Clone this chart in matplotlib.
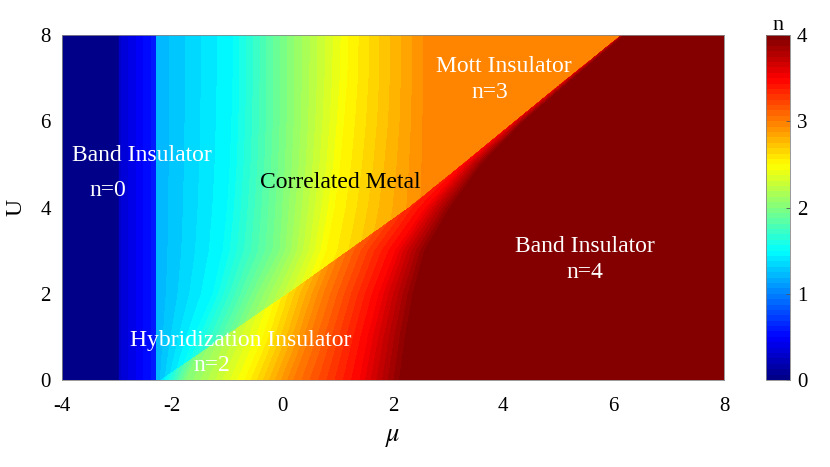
import numpy as np
import matplotlib
matplotlib.use("Agg")
import matplotlib.pyplot as plt
from matplotlib.colors import LinearSegmentedColormap

plt.rcParams['font.family'] = ['Liberation Serif', 'DejaVu Serif']
plt.rcParams['mathtext.fontset'] = 'stix'
plt.rcParams['axes.unicode_minus'] = False

# ---- data ----
U_rows = [0, 1, 2, 3, 4, 5, 6, 7, 8]
# boundary line between correlated metal (left/up) and hybridization/band insulator (right/down)
line_mu = [-2.2, -1.05, 0.1, 1.2, 2.3, 3.27, 4.22, 5.18, 6.15]

# left band-insulator strip (same for all U)
band_mu = [-4.0, -2.97, -2.95, -2.3]
band_n = [0.0, 0.02, 0.3, 0.6]

# correlated metal region: mu positions of the levels below, per U row
metal_levels = [1.2, 1.5, 2.0, 2.5, 2.75, 3.0]
metal_mu = [
    [-2.28, -1.9, -1.2, -0.3, 0.4, 1.4],    # U=0
    [-2.28, -1.6, -0.8, 0.1, 0.8, 1.8],     # U=1
    [-2.28, -1.26, -0.45, 0.5, 1.2, 2.2],   # U=2
    [-2.28, -1.08, -0.05, 0.8, 1.6, 2.65],  # U=3
    [-2.28, -1.0, 0.0, 0.95, 1.75, 2.75],   # U=4
    [-2.28, -0.95, 0.05, 1.05, 1.85, 2.75], # U=5
    [-2.28, -0.92, 0.08, 1.12, 1.92, 2.75], # U=6
    [-2.28, -0.9, 0.08, 1.18, 1.95, 2.75],  # U=7
    [-2.28, -0.9, 0.08, 1.2, 1.95, 2.75],   # U=8
]

# region below the line: mu positions of the levels below, per U row
lower_levels = [1.3, 2.0, 2.5, 3.0, 3.5, 4.0]
lower_mu = [
    [-2.25, -1.75, -0.68, 0.2, 1.4, 2.22],  # U=0
    [-2.1, -1.4, -0.35, 0.5, 1.55, 2.32],   # U=1
    [-1.9, -1.0, -0.1, 0.75, 1.75, 2.45],   # U=2
    [-1.6, -0.6, 0.3, 1.05, 2.05, 2.65],    # U=3
    [-1.0, 0.0, 0.9, 1.65, 2.6, 3.1],       # U=4
    [0.0, 1.0, 2.0, 2.8, 3.3, 3.65],        # U=5
    [1.0, 2.0, 3.0, 3.8, 4.2, 4.4],         # U=6
    [2.0, 3.0, 4.0, 4.8, 5.15, 5.3],        # U=7
    [3.0, 4.0, 5.0, 5.8, 6.1, 6.22],        # U=8
]

x_ticks = [-4, -2, 0, 2, 4, 6, 8]
y_ticks = [0, 2, 4, 6, 8]
cb_ticks = [0, 1, 2, 3, 4]

labels = [
    ("Band Insulator", -2.55, 5.2, "white"),
    ("n=0", -3.17, 4.4, "white"),
    ("Correlated Metal", 1.04, 4.57, "black"),
    ("Mott Insulator", 4.0, 7.26, "white"),
    ("n=3", 3.76, 6.66, "white"),
    ("Band Insulator", 5.48, 3.1, "white"),
    ("n=4", 5.48, 2.5, "white"),
    ("Hybridization Insulator", -0.77, 0.92, "white"),
    ("n=2", -1.28, 0.34, "white"),
]

# MATLAB-style jet colormap
jet_m = LinearSegmentedColormap('jet_m', {
    'red':   [(0, 0, 0), (0.375, 0, 0), (0.625, 1, 1), (0.875, 1, 1), (1, 0.5, 0.5)],
    'green': [(0, 0, 0), (0.125, 0, 0), (0.375, 1, 1), (0.625, 1, 1), (0.875, 0, 0), (1, 0, 0)],
    'blue':  [(0, 0.5, 0.5), (0.125, 1, 1), (0.375, 1, 1), (0.625, 0, 0), (1, 0, 0)],
}, N=256)

# ---- build field ----
mu = np.linspace(-4, 8, 1801)
U = np.linspace(0, 8, 801)
MU, UU = np.meshgrid(mu, U)
N = np.zeros_like(MU)
Ur = np.array(U_rows, float)
mm = np.array(metal_mu)
lm = np.array(lower_mu)
for i, u in enumerate(U):
    lmu = np.interp(u, Ur, line_mu)
    mk = [np.interp(u, Ur, mm[:, k]) for k in range(mm.shape[1])]
    lk = [np.interp(u, Ur, lm[:, k]) for k in range(lm.shape[1])]
    n_band = np.interp(mu, band_mu, band_n)
    n_metal = np.interp(mu, mk, metal_levels)
    n_low = np.interp(mu, lk, lower_levels)
    N[i] = np.where(mu < -2.29, n_band, np.where(mu < lmu, n_metal, n_low))

fig = plt.figure(figsize=(8.3, 4.67), dpi=100)
ax = fig.add_axes([0.0747, 0.1863, 0.7976, 0.7387])
cax = fig.add_axes([0.923, 0.1863, 0.029, 0.7387])

levels = np.linspace(0, 4, 65)
cf = ax.contourf(MU, UU, N, levels=levels, cmap=jet_m, vmin=0, vmax=4)
ax.set_xlim(-4, 8)
ax.set_ylim(0, 8)
ax.set_xticks(x_ticks)
ax.set_yticks(y_ticks)
ax.tick_params(labelsize=15, length=0)
ax.tick_params(axis='x', pad=12)
ax.tick_params(axis='y', pad=8)
for s in ax.spines.values():
    s.set_color('#888888')
    s.set_linewidth(0.6)
ax.set_xlabel(r'$\mu$', fontsize=19, labelpad=8)
ax.set_ylabel('U', fontsize=17, labelpad=10)

for txt, x, y, c in labels:
    ax.text(x, y, txt, color=c, fontsize=17, ha='center', va='center')

cb = fig.colorbar(cf, cax=cax, ticks=cb_ticks)
cb.ax.tick_params(labelsize=15, direction='in', length=3, width=0.6, color='#555555', pad=5)
cb.outline.set_edgecolor('#888888')
cb.outline.set_linewidth(0.6)
cax.set_title('n', fontsize=16, pad=1)

fig.savefig('out.png', dpi=100)
